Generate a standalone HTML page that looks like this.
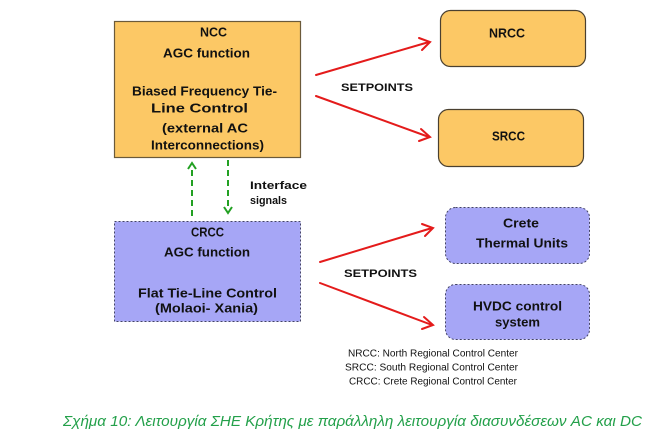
<!DOCTYPE html>
<html><head><meta charset="utf-8"><style>
html,body{margin:0;padding:0;background:#fff;}
svg{display:block;}
text{font-family:"Liberation Sans",sans-serif;}
.b{font-weight:bold;font-size:13px;fill:#111;}
.s{font-weight:bold;font-size:11px;fill:#111;}
.l{font-size:10px;fill:#111;}
</style></head><body>
<svg width="659" height="438" viewBox="0 0 659 438" xmlns="http://www.w3.org/2000/svg">
<!-- NCC box -->
<rect x="114.5" y="21.5" width="186" height="136" fill="#fcc865" stroke="#6b5a3a" stroke-width="1.2"/>
<text class="b" x="200" y="36.5" textLength="27" lengthAdjust="spacingAndGlyphs">NCC</text>
<text class="b" x="163" y="57.5" textLength="87" lengthAdjust="spacingAndGlyphs">AGC function</text>
<text class="b" x="132" y="95.5" textLength="145" lengthAdjust="spacingAndGlyphs">Biased Frequency Tie-</text>
<text class="b" x="151" y="112.5" textLength="97" lengthAdjust="spacingAndGlyphs">Line Control</text>
<text class="b" x="162" y="132.5" textLength="86" lengthAdjust="spacingAndGlyphs">(external AC</text>
<text class="b" x="151" y="149.5" textLength="113" lengthAdjust="spacingAndGlyphs">Interconnections)</text>

<!-- NRCC / SRCC -->
<rect x="440.5" y="10.5" width="145" height="56" rx="10" fill="#fcc865" stroke="#4a4030" stroke-width="1.2"/>
<text class="b" x="489" y="37.5" textLength="36" lengthAdjust="spacingAndGlyphs">NRCC</text>
<rect x="438.5" y="109.5" width="145" height="57" rx="10" fill="#fcc865" stroke="#4a4030" stroke-width="1.2"/>
<text class="b" x="492" y="140.5" textLength="33" lengthAdjust="spacingAndGlyphs">SRCC</text>

<!-- red arrows top -->
<g stroke="#e41b1b" stroke-width="2" fill="none" stroke-linecap="round">
<line x1="316" y1="75" x2="429" y2="42"/>
<polyline points="419,38 430,42 422,50"/>
<line x1="316" y1="96" x2="429" y2="137"/>
<polyline points="421,129 430,137 419,141"/>
</g>
<text class="s" x="341" y="91" textLength="72" lengthAdjust="spacingAndGlyphs">SETPOINTS</text>

<!-- green dashed arrows -->
<g stroke="#22a022" stroke-width="2" fill="none">
<line x1="192" y1="216" x2="192" y2="166" stroke-dasharray="6,4"/>
<polyline points="188,169 192,163 196,169"/>
<line x1="228" y1="160" x2="228" y2="210" stroke-dasharray="6,4"/>
<polyline points="224,207 228,213 232,207"/>
</g>
<text class="s" x="250" y="189" textLength="57" lengthAdjust="spacingAndGlyphs">Interface</text>
<text class="s" x="250" y="204" textLength="37" lengthAdjust="spacingAndGlyphs">signals</text>

<!-- CRCC box -->
<rect x="114.5" y="221.5" width="186" height="100" fill="#a6a6f6" stroke="#444466" stroke-width="1" stroke-dasharray="2,2"/>
<text class="b" x="191" y="236.5" textLength="33" lengthAdjust="spacingAndGlyphs">CRCC</text>
<text class="b" x="164" y="256.5" textLength="86" lengthAdjust="spacingAndGlyphs">AGC function</text>
<text class="b" x="138" y="297.5" textLength="139" lengthAdjust="spacingAndGlyphs">Flat Tie-Line Control</text>
<text class="b" x="155" y="312.5" textLength="103" lengthAdjust="spacingAndGlyphs">(Molaoi- Xania)</text>

<!-- Crete / HVDC -->
<rect x="445.5" y="207.5" width="144" height="56" rx="10" fill="#a6a6f6" stroke="#444466" stroke-width="1" stroke-dasharray="2,2"/>
<text class="b" x="503" y="227.5" textLength="36" lengthAdjust="spacingAndGlyphs">Crete</text>
<text class="b" x="476" y="247.5" textLength="92" lengthAdjust="spacingAndGlyphs">Thermal Units</text>
<rect x="445.5" y="284.5" width="144" height="55" rx="10" fill="#a6a6f6" stroke="#444466" stroke-width="1" stroke-dasharray="2,2"/>
<text class="b" x="473" y="310.5" textLength="89" lengthAdjust="spacingAndGlyphs">HVDC control</text>
<text class="b" x="495" y="326.5" textLength="45" lengthAdjust="spacingAndGlyphs">system</text>

<!-- red arrows bottom -->
<g stroke="#e41b1b" stroke-width="2" fill="none" stroke-linecap="round">
<line x1="320" y1="262" x2="432" y2="228"/>
<polyline points="422,224 433,228 425,236"/>
<line x1="320" y1="283" x2="432" y2="325"/>
<polyline points="424,317 433,325 422,329"/>
</g>
<text class="s" x="344" y="277" textLength="73" lengthAdjust="spacingAndGlyphs">SETPOINTS</text>

<!-- legend -->
<text class="l" x="348" y="356.5" textLength="170" lengthAdjust="spacingAndGlyphs">NRCC: North Regional Control Center</text>
<text class="l" x="345" y="370.5" textLength="173" lengthAdjust="spacingAndGlyphs">SRCC: South Regional Control Center</text>
<text class="l" x="349" y="384.5" textLength="168" lengthAdjust="spacingAndGlyphs">CRCC: Crete Regional Control Center</text>

<!-- caption -->
<text x="63" y="426" font-size="15" font-style="italic" fill="#23a04a" textLength="579" lengthAdjust="spacingAndGlyphs" style="font-family:'Liberation Sans','DejaVu Sans',sans-serif;">Σχήμα 10: Λειτουργία ΣΗΕ Κρήτης με παράλληλη λειτουργία διασυνδέσεων AC και DC</text>
</svg>
</body></html>
